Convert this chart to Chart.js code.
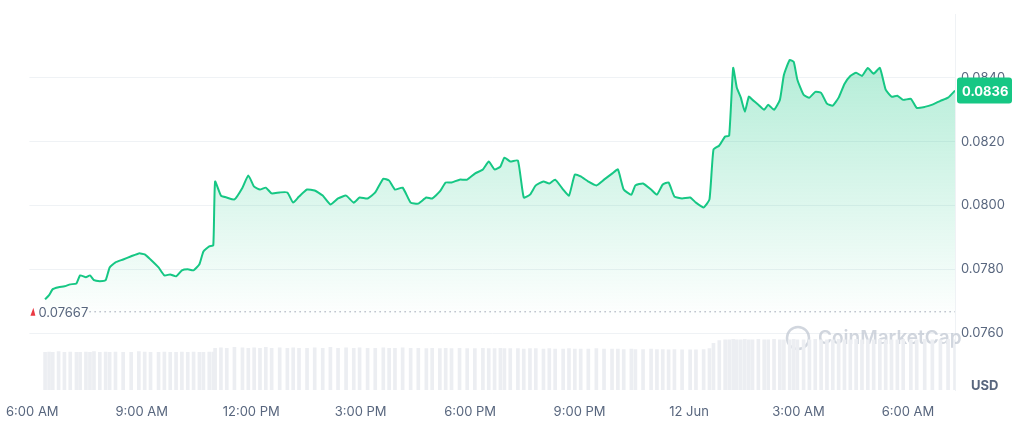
<!DOCTYPE html>
<html>
<head>
<meta charset="utf-8">
<script src="https://cdn.jsdelivr.net/npm/chart.js@4"></script>
<style>
  html, body { margin: 0; padding: 0; background: #fff; }
  #wrap { width: 1022px; height: 424px; }
</style>
</head>
<body>
<div id="wrap"><canvas id="chart" width="1022" height="424"></canvas></div>
<script>
// hours since 6:00 AM (Jun 11)
const times = [
  0.35, 0.46, 0.56, 0.72, 0.88, 1.04, 1.21, 1.31, 1.47, 1.58, 1.69, 1.85, 2.01,
  2.12, 2.28, 2.49, 2.71, 2.92, 3.08, 3.24, 3.46, 3.62, 3.78, 3.94, 4.10, 4.26, 4.42, 4.58, 4.69, 4.85, 4.96,
  5.01, 5.17, 5.33, 5.54, 5.76, 5.92, 6.08, 6.24, 6.40, 6.56,
  6.78, 6.99, 7.15, 7.31, 7.53, 7.74, 7.96, 8.17, 8.38, 8.60,
  8.81, 8.97, 9.19, 9.40, 9.62, 9.78, 9.94, 10.15, 10.37, 10.58,
  10.80, 10.96, 11.17, 11.33, 11.49, 11.71, 11.92, 12.13, 12.35, 12.51,
  12.67, 12.83, 12.94, 13.10, 13.31, 13.47, 13.64, 13.80, 14.01, 14.17,
  14.33, 14.55, 14.71, 14.87, 15.03, 15.24, 15.46, 15.67, 15.89, 16.05,
  16.21, 16.42, 16.53, 16.74, 16.96, 17.12, 17.28, 17.44, 17.60, 17.81,
  18.03, 18.19, 18.40, 18.56,
  18.67, 18.83, 18.99, 19.10, 19.21, 19.31, 19.42, 19.53, 19.64, 19.74,
  19.90, 20.06, 20.17, 20.33, 20.49, 20.60, 20.76, 20.87, 20.97, 21.14,
  21.30, 21.46, 21.62, 21.78, 21.94, 22.10, 22.26, 22.42, 22.58, 22.74,
  22.90, 23.06, 23.23, 23.39, 23.55, 23.71, 23.87, 24.08, 24.24, 24.46,
  24.67, 24.89, 25.10, 25.29
];

const prices = [
  0.07706, 0.07719, 0.07738, 0.07744, 0.07747, 0.07753, 0.07756, 0.07781, 0.07775, 0.07781, 0.07766, 0.07763, 0.07766,
  0.07806, 0.07822, 0.07831, 0.07841, 0.07850, 0.07847, 0.07831, 0.07806, 0.07781, 0.07784, 0.07778, 0.07797, 0.07800, 0.07797, 0.07816, 0.07856, 0.07872, 0.07875,
  0.08075, 0.08031, 0.08025, 0.08019, 0.08056, 0.08094, 0.08059, 0.08050, 0.08056, 0.08038,
  0.08041, 0.08041, 0.08009, 0.08028, 0.08050, 0.08047, 0.08031, 0.08003, 0.08022, 0.08031,
  0.08009, 0.08025, 0.08022, 0.08041, 0.08084, 0.08078, 0.08050, 0.08056, 0.08009, 0.08006,
  0.08025, 0.08022, 0.08044, 0.08072, 0.08072, 0.08081, 0.08081, 0.08100, 0.08113, 0.08138,
  0.08113, 0.08122, 0.08150, 0.08138, 0.08141, 0.08025, 0.08034, 0.08063, 0.08075, 0.08069,
  0.08081, 0.08050, 0.08031, 0.08097, 0.08091, 0.08075, 0.08063, 0.08081, 0.08100, 0.08113,
  0.08050, 0.08034, 0.08063, 0.08069, 0.08050, 0.08034, 0.08066, 0.08072, 0.08028, 0.08022,
  0.08025, 0.08009, 0.07994, 0.08019,
  0.08175, 0.08188, 0.08216, 0.08219, 0.08431, 0.08369, 0.08338, 0.08294, 0.08341, 0.08331,
  0.08316, 0.08300, 0.08316, 0.08300, 0.08331, 0.08409, 0.08456, 0.08450, 0.08394, 0.08347,
  0.08338, 0.08356, 0.08353, 0.08319, 0.08313, 0.08338, 0.08381, 0.08406, 0.08416, 0.08406,
  0.08431, 0.08413, 0.08431, 0.08363, 0.08341, 0.08344, 0.08331, 0.08334, 0.08306, 0.08309,
  0.08316, 0.08328, 0.08338, 0.08360
];

const volumes = [
  90, 91, 90, 92, 90, 91, 90, 90, 91, 90, 92, 90, 91,
  90, 91, 90, 90, 92, 91, 90, 90, 91, 90, 90, 91, 90, 91, 90, 90, 91, 91,
  100, 101, 100, 102, 101, 100, 101, 100, 102, 100,
  101, 100, 101, 100, 100, 101, 100, 102, 100, 101,
  100, 101, 100, 100, 101, 100, 100, 101, 100, 100,
  99, 100, 99, 100, 99, 100, 99, 99, 100, 99,
  99, 100, 99, 99, 99, 98, 99, 99, 98, 99,
  98, 98, 99, 98, 98, 98, 99, 98, 98, 98,
  97, 98, 97, 97, 98, 97, 97, 96, 97, 96,
  96, 96, 97, 99,
  112, 118, 120, 120, 121, 120, 120, 121, 120, 120,
  121, 120, 120, 121, 120, 120, 120, 121, 120, 120,
  120, 121, 120, 120, 120, 121, 120, 120, 121, 120,
  120, 120, 121, 120, 120, 120, 121, 120, 120, 121,
  120, 120, 121, 120
];

const tickHours = [0, 3, 6, 9, 12, 15, 18, 21, 24];
const tickLabels = ['6:00 AM', '9:00 AM', '12:00 PM', '3:00 PM', '6:00 PM', '9:00 PM', '12 Jun', '3:00 AM', '6:00 AM'];
const priceTicks = [0.076, 0.078, 0.080, 0.082, 0.084];
const openPrice = 0.07667;
const lastPrice = 0.0836;

const green = '#16c784';
const greyText = '#58667e';

const overlayPlugin = {
  id: 'overlay',
  beforeDatasetsDraw(chart) {
    const { ctx } = chart;
    ctx.save();
    ctx.font = '600 19px Inter, "Open Sans", sans-serif';
    ctx.fillStyle = 'rgba(190,196,208,0.7)';
    ctx.textAlign = 'left';
    ctx.textBaseline = 'middle';
    ctx.fillText('CoinMarketCap', 818, 338);
    ctx.strokeStyle = 'rgba(190,196,208,0.7)';
    ctx.lineWidth = 2.5;
    ctx.beginPath();
    ctx.arc(798, 338, 11, 0, Math.PI * 2);
    ctx.stroke();
    ctx.restore();
  },
  afterDatasetsDraw(chart) {
    const { ctx, chartArea, scales } = chart;
    const yOpen = scales.y.getPixelForValue(openPrice);
    ctx.save();
    ctx.setLineDash([1.5, 3.5]);
    ctx.strokeStyle = '#9aa3b2';
    ctx.lineWidth = 1;
    ctx.beginPath();
    ctx.moveTo(chartArea.left + 60, yOpen);
    ctx.lineTo(chartArea.right, yOpen);
    ctx.stroke();
    ctx.setLineDash([]);
    ctx.fillStyle = '#ea3943';
    ctx.beginPath();
    ctx.moveTo(chartArea.left + 1, yOpen + 4);
    ctx.lineTo(chartArea.left + 4, yOpen - 4);
    ctx.lineTo(chartArea.left + 6, yOpen + 4);
    ctx.closePath();
    ctx.fill();
    ctx.font = '13px Inter, "Open Sans", sans-serif';
    ctx.fillStyle = greyText;
    ctx.textBaseline = 'middle';
    ctx.textAlign = 'left';
    ctx.fillText(openPrice.toFixed(5), chartArea.left + 9, yOpen + 1);

    // last price badge
    const yLast = scales.y.getPixelForValue(lastPrice);
    const bx = chartArea.right + 2, bw = 55, bh = 26;
    ctx.fillStyle = green;
    ctx.beginPath();
    ctx.roundRect(bx, yLast - bh / 2, bw, bh, 3);
    ctx.fill();
    ctx.fillStyle = '#fff';
    ctx.font = 'bold 13px Inter, "Open Sans", sans-serif';
    ctx.fillText(lastPrice.toFixed(4), bx + 5, yLast + 1);

    ctx.fillStyle = greyText;
    ctx.fillText('USD', 971, 386);
    ctx.restore();
  }
};

const ctx = document.getElementById('chart').getContext('2d');
const grad = ctx.createLinearGradient(0, 14, 0, 320);
grad.addColorStop(0, 'rgba(22,199,132,0.38)');
grad.addColorStop(1, 'rgba(22,199,132,0.0)');

new Chart(ctx, {
  type: 'line',
  data: {
    datasets: [
      {
        type: 'line',
        data: times.map((t, i) => ({ x: t, y: prices[i] })),
        borderColor: green,
        borderWidth: 2,
        backgroundColor: grad,
        fill: 'start',
        pointRadius: 0,
        tension: 0.15,
        yAxisID: 'y',
        order: 1
      },
      {
        type: 'bar',
        data: times.map((t, i) => ({ x: t, y: volumes[i] })),
        backgroundColor: '#eceef2',
        barThickness: 3,
        yAxisID: 'yVol',
        order: 2
      }
    ]
  },
  options: {
    responsive: false,
    animation: false,
    layout: { padding: { left: 8, top: 14, right: 0, bottom: 0 } },
    plugins: { legend: { display: false }, tooltip: { enabled: false } },
    scales: {
      x: {
        type: 'linear',
        offset: false,
        min: -0.08,
        max: 25.29,
        afterBuildTicks: (s) => { s.ticks = tickHours.map(v => ({ value: v })); },
        ticks: {
          color: greyText,
          font: { size: 13, family: 'Inter, "Open Sans", sans-serif' },
          maxRotation: 0,
          padding: 6,
          callback: (v) => tickLabels[tickHours.indexOf(v)]
        },
        grid: { display: false, offset: false },
        border: { display: false },
        afterFit: (s) => { s.height = 34; }
      },
      y: {
        position: 'right',
        min: 0.07422,
        max: 0.0860,
        afterBuildTicks: (s) => { s.ticks = priceTicks.map(v => ({ value: v })); },
        ticks: {
          color: greyText,
          font: { size: 13, family: 'Inter, "Open Sans", sans-serif' },
          padding: 6,
          callback: (v) => v.toFixed(4)
        },
        grid: { color: '#eff2f5', drawTicks: false },
        border: { display: true, color: '#eff2f5' },
        afterFit: (s) => { s.width = 67; }
      },
      yVol: {
        display: false,
        min: 0,
        max: 900
      }
    }
  },
  plugins: [overlayPlugin]
});
</script>
</body>
</html>
